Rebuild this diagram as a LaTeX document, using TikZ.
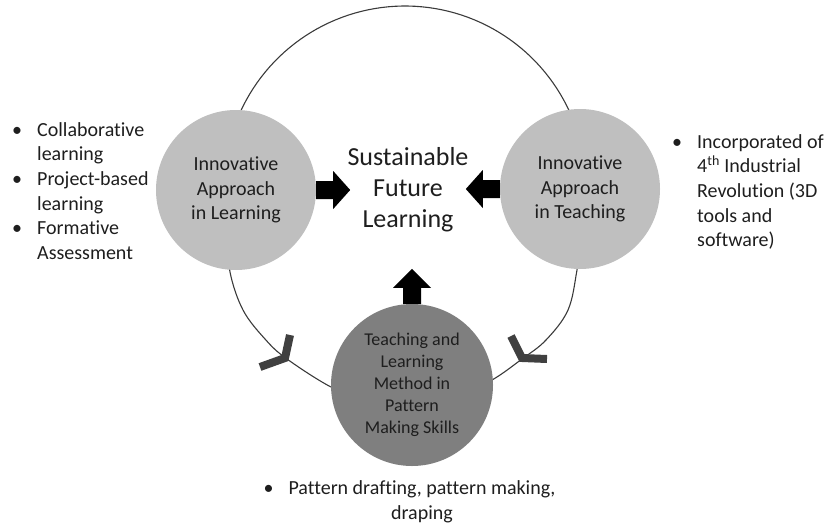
\documentclass[tikz,border=0pt]{standalone}
\usepackage{fontspec}
\setmainfont{Carlito}[Ligatures={NoCommon}]
\usetikzlibrary{calc}
\definecolor{lightc}{HTML}{BFBFBF}
\definecolor{darkc}{HTML}{7F7F7F}
\definecolor{ringc}{HTML}{3A3A3A}
\definecolor{chevc}{HTML}{404040}
\definecolor{txt}{HTML}{1E1E1E}
\begin{document}
\begin{tikzpicture}[x=1pt,y=-1pt,
  bigc/.style={circle, fill=#1, minimum size=160pt, inner sep=0pt, align=center, text=txt},
  ctext/.style={font=\fontsize{20}{24.4}\selectfont},
  btext/.style={font=\fontsize{18}{22}\selectfont},
  listtext/.style={font=\fontsize{20}{24.6}\selectfont, inner sep=0pt, text=txt},
  blockarrow/.style={fill=black},
  chevron/.style={draw=chevc, line width=8pt, line join=miter},
  ring/.style={draw=ringc, line width=1.1pt}]
\useasboundingbox (0,0) rectangle (827,525);

% ring: top arc and two lower arcs
\draw[ring] plot[domain=185:355, samples=80] ({405+181*cos(\x)}, {187+181*sin(\x)});
\draw[ring] plot[smooth, tension=0.6] coordinates {
  (228,235) (230,272) (243,310) (265,339) (287,359) (333,388) (365,397)};
\draw[ring] plot[smooth, tension=0.6] coordinates {
  (582,235) (577,270) (568,310) (546,340) (522,359) (492,380) (462,393)};

% chevrons
\draw[chevron] (290,335) -- (285,358) -- (260,367);
\draw[chevron] (511,336) -- (522,358) -- (547,359);

% center text
\node[font=\fontsize{26}{31}\selectfont, align=center, text=txt, inner sep=0pt] (C) at (408,190)
  {Sustainable\\Future\\Learning};

% circles
\node[bigc=lightc, ctext] (L) at (236,190) {Innovative\\Approach\\in Learning};
\node[bigc=lightc, ctext] (R) at (580,189) {Innovative\\Approach\\in Teaching};
\node[bigc=darkc, btext, minimum size=162pt] (B) at (412,385) {Teaching and\\Learning\\Method in\\Pattern\\Making Skills};

% block arrows
\fill[blockarrow] (L.east) ++(0,-9) -- ++(17,0) -- ++(0,-10) -- ++(17,19)
  -- ++(-17,19) -- ++(0,-10) -- ++(-17,0) -- cycle;
\fill[blockarrow] (R.west) ++(0,-9) -- ++(-17,0) -- ++(0,-10) -- ++(-17,19)
  -- ++(17,19) -- ++(0,-10) -- ++(17,0) -- cycle;
\fill[blockarrow] (B.north) ++(-9,0) -- ++(0,-16) -- ++(-10,0) -- ++(19,-19)
  -- ++(19,19) -- ++(-10,0) -- ++(0,16) -- cycle;

% lists
\node[listtext, align=left, anchor=west] (LL) at (12,191)
  {\makebox[25pt][l]{•}Collaborative\\
   \hspace*{25pt}learning\\
   \makebox[25pt][l]{•}Project-based\\
   \hspace*{25pt}learning\\
   \makebox[25pt][l]{•}Formative\\
   \hspace*{25pt}Assessment};
\node[listtext, align=left, anchor=west] (RL) at (672,192)
  {\makebox[25pt][l]{•}Incorporated of\\
   \hspace*{25pt}4\textsuperscript{th} Industrial\\
   \hspace*{25pt}Revolution (3D\\
   \hspace*{25pt}tools and\\
   \hspace*{25pt}software)};
\node[listtext, align=center] (BL) at (422,502)
  {\llap{\makebox[25pt][l]{•}}Pattern drafting, pattern making,\\ draping};
\end{tikzpicture}
\end{document}
